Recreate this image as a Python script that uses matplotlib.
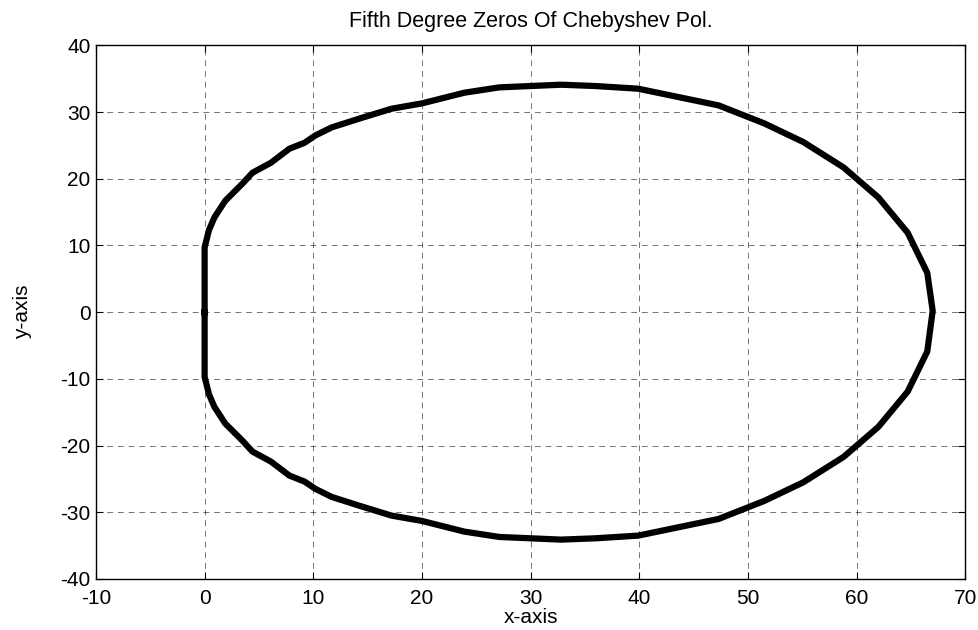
import numpy as np
import matplotlib
matplotlib.use('Agg')
import matplotlib.pyplot as plt

plt.rcParams['font.family'] = ['Liberation Sans', 'DejaVu Sans']
plt.rcParams['axes.unicode_minus'] = False

# points, traced counter-clockwise from the left flat side
x_vals = [0, 0, 0.2, 0.4, 0.9, 1.9, 3.5, 4.4, 6.1, 7.8, 9.2, 10.2, 11.7, 14.2,
          17.2, 20.0, 23.9, 27.1, 32.8, 36.0, 39.9, 47.3, 51.5, 55.1,
          58.8, 62.0, 64.7, 66.5, 67.0,
          66.5, 64.7, 62.0, 58.8, 55.1, 51.5, 47.3, 39.9, 36.0, 32.8,
          27.1, 23.9, 20.0, 17.2, 14.2, 11.7, 10.2, 9.2, 7.8, 6.1, 4.4, 3.5,
          1.9, 0.9, 0.4, 0.2, 0, 0]
y_vals = [0, 9.7, 11.0, 12.3, 14.2, 16.7, 19.3, 20.9, 22.4, 24.5, 25.4, 26.5,
          27.7, 29.0, 30.5, 31.3, 32.9, 33.7, 34.1, 33.9, 33.5, 31.0,
          28.3, 25.5, 21.7, 17.2, 11.9, 5.9, 0.2,
          -5.9, -11.9, -17.2, -21.7, -25.5, -28.3, -31.0, -33.5, -33.9,
          -34.1, -33.7, -32.9, -31.3, -30.5, -29.0, -27.7, -26.5, -25.4, -24.5,
          -22.4, -20.9, -19.3, -16.7, -14.2, -12.3, -11.0, -9.7, 0]

x_ticks = [-10, 0, 10, 20, 30, 40, 50, 60, 70]
y_ticks = [-40, -30, -20, -10, 0, 10, 20, 30, 40]

fig = plt.figure(figsize=(9.79, 6.30), dpi=100)
ax = fig.add_axes([0.098, 0.081, 0.888, 0.847])

ax.plot(x_vals, y_vals, color='black', linewidth=4.5, solid_joinstyle='round')

ax.set_xlim(-10, 70)
ax.set_ylim(-40, 40)
ax.set_xticks(x_ticks)
ax.set_yticks(y_ticks)
ax.tick_params(direction='in', top=True, right=True, labelsize=15, length=5)
ax.tick_params(axis='y', pad=4)
ax.tick_params(axis='x', pad=7)
ax.grid(True, color='black', linestyle=(0, (6, 5)), linewidth=0.7, alpha=0.55)
for s in ax.spines.values():
    s.set_linewidth(1.0)

ax.set_title('Fifth Degree Zeros Of Chebyshev Pol.', fontsize=15.5, pad=13)
ax.set_xlabel('x-axis', fontsize=15, labelpad=0.5)
ax.set_ylabel('y-axis', fontsize=15, labelpad=20)

fig.savefig('out.png', dpi=100)
